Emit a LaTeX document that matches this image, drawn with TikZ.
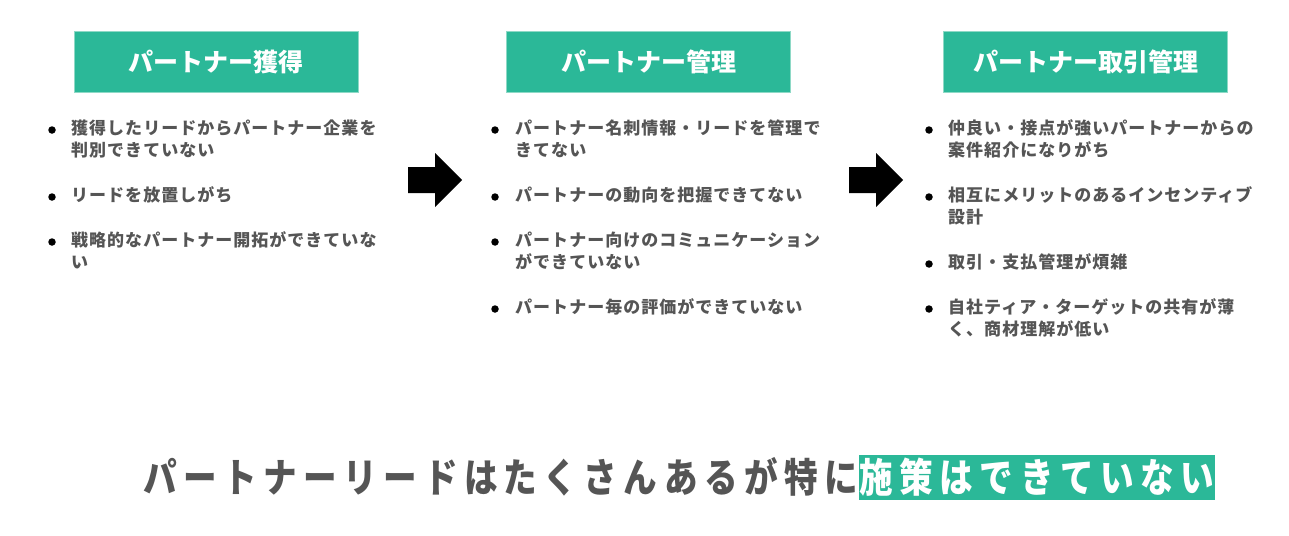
\documentclass[tikz,border=0pt]{standalone}
\usepackage{fontspec}
\setmainfont{Noto Sans CJK JP}
\newfontfamily\bodyjp{Noto Sans CJK JP}[LetterSpace=6]
\newfontfamily\bigjp{Noto Sans CJK JP}[FakeStretch=0.84,LetterSpace=16.3]
\definecolor{tealfill}{HTML}{2BB898}
\definecolor{tealedge}{HTML}{8ED9C6}
\definecolor{txtgray}{HTML}{555555}
\tikzset{
  hdr/.style={fill=tealfill, draw=tealedge, line width=0.8pt, minimum width=284pt, minimum height=61pt, inner sep=0pt, text=white, font=\bfseries\fontsize{25}{25}\selectfont},
  itm/.style={anchor=base west, inner sep=0pt, text=txtgray, font=\bodyjp\bfseries\fontsize{17}{17}\selectfont},
  bul/.style={fill=black, circle, inner sep=0pt, minimum size=7.5pt},
  blockarrow/.style={fill=black, draw=none},
  bigtxt/.style={anchor=base west, inner sep=0pt, font=\bigjp\bfseries\fontsize{40}{40}\selectfont}
}
\begin{document}
\begin{tikzpicture}[x=1pt,y=-1pt]
\useasboundingbox (0,0) rectangle (1289,535);
\fill[white] (0,0) rectangle (1289,535);
% headers
\node[hdr] (h1) at (216,61.5) {パートナー獲得};
\node[hdr] (h2) at (648.5,61.5) {パートナー管理};
\node[hdr] (h3) at (1085.5,61.5) {パートナー取引管理};
% column 1
\node[bul] (b11) at (52,130) {};
\node[itm] (t11a) at (71,134.5) {獲得したリードからパートナー企業を};
\node[itm] (t11b) at (71,156.5) {判別できていない};
\node[bul] (b12) at (52,197) {};
\node[itm] (t12a) at (71,201.5) {リードを放置しがち};
\node[bul] (b13) at (52,242) {};
\node[itm] (t13a) at (71,246.5) {戦略的なパートナー開拓ができていな};
\node[itm] (t13b) at (71,268.5) {い};
% column 2
\node[bul] (b21) at (495,130) {};
\node[itm] (t21a) at (515,134.5) {パートナー名刺情報・リードを管理で};
\node[itm] (t21b) at (515,156.5) {きてない};
\node[bul] (b22) at (495,197) {};
\node[itm] (t22a) at (515,201.5) {パートナーの動向を把握できてない};
\node[bul] (b23) at (495,242) {};
\node[itm] (t23a) at (515,246.5) {パートナー向けのコミュニケーション};
\node[itm] (t23b) at (515,268.5) {ができていない};
\node[bul] (b24) at (495,309) {};
\node[itm] (t24a) at (515,313.5) {パートナー毎の評価ができていない};
% column 3
\node[bul] (b31) at (929,130) {};
\node[itm] (t31a) at (948,134.5) {仲良い・接点が強いパートナーからの};
\node[itm] (t31b) at (948,156.5) {案件紹介になりがち};
\node[bul] (b32) at (929,197) {};
\node[itm] (t32a) at (948,201.5) {相互にメリットのあるインセンティブ};
\node[itm] (t32b) at (948,223.5) {設計};
\node[bul] (b33) at (929,264) {};
\node[itm] (t33a) at (948,268.5) {取引・支払管理が煩雑};
\node[bul] (b34) at (929,309) {};
\node[itm] (t34a) at (948,313.5) {自社ティア・ターゲットの共有が薄};
\node[itm] (t34b) at (948,335.5) {く、商材理解が低い};
% block arrows
\fill[blockarrow] (408,167) -- (435,167) -- (435,153) -- (462,180) -- (435,207) -- (435,193) -- (408,193) -- cycle;
\fill[blockarrow] (849,167) -- (876,167) -- (876,153) -- (903,180) -- (876,207) -- (876,193) -- (849,193) -- cycle;
% bottom message
\node[bigtxt, text=txtgray] (m1) at (143,492) {パートナーリードはたくさんあるが特に};
\node[bigtxt, text=white, fill=tealfill, text height=37pt, text depth=8pt, inner xsep=1pt] (m2) at (m1.base east) {施策はできていない};
\end{tikzpicture}
\end{document}
